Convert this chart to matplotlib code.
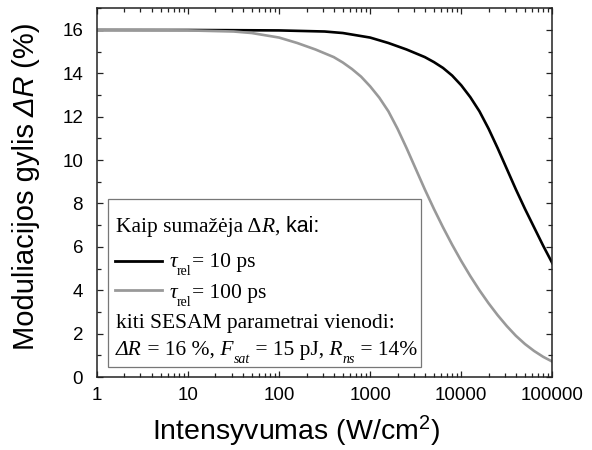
import matplotlib
matplotlib.use("Agg")
import matplotlib.pyplot as plt
from matplotlib.patches import Rectangle
from matplotlib.ticker import LogLocator, MultipleLocator, NullFormatter

plt.rcParams['font.family'] = 'Liberation Sans'
plt.rcParams['mathtext.fontset'] = 'custom'
plt.rcParams['mathtext.rm'] = 'Liberation Sans'
plt.rcParams['mathtext.it'] = 'Liberation Sans:italic'

# values
intensity_10ps = [1, 10, 100, 316, 501, 1000, 1585, 2512, 3981, 5012, 6310,
                  7943, 10000, 12589, 15849, 19953, 25119, 31623, 39811,
                  50119, 63096, 79433, 100000]
dR_10ps = [16.0, 16.0, 15.98, 15.93, 15.86, 15.65, 15.4, 15.1, 14.75, 14.52,
           14.25, 13.9, 13.45, 12.9, 12.25, 11.45, 10.55, 9.6, 8.65, 7.75,
           6.9, 6.05, 5.25]

intensity_100ps = [1, 10, 31.6, 50.1, 100, 158, 251, 398, 501, 631, 794, 1000,
                   1259, 1585, 1995, 2512, 3162, 3981, 5012, 6310, 7943,
                   10000, 12589, 15849, 19953, 25119, 31623, 39811, 50119,
                   63096, 79433, 100000]
dR_100ps = [16.0, 15.98, 15.93, 15.86, 15.65, 15.4, 15.1, 14.75, 14.5, 14.2,
            13.85, 13.4, 12.88, 12.25, 11.45, 10.55, 9.6, 8.65, 7.75, 6.9,
            6.1, 5.35, 4.65, 4.0, 3.4, 2.85, 2.35, 1.9, 1.52, 1.2, 0.93, 0.71]

x_ticks = [1, 10, 100, 1000, 10000, 100000]
x_tick_labels = ['1', '10', '100', '1000', '10000', '100000']
y_ticks = [0, 2, 4, 6, 8, 10, 12, 14, 16]

fig = plt.figure(figsize=(5.92, 4.5), dpi=100)
ax = fig.add_axes([97 / 592, 73 / 450, 455.3 / 592, 368.7 / 450])

l1, = ax.plot(intensity_10ps, dR_10ps, color='black', lw=1.9)
l2, = ax.plot(intensity_100ps, dR_100ps, color='#999999', lw=1.9)

ax.set_xscale('log')
ax.set_xlim(1, 100000)
ax.set_ylim(0, 17)
ax.set_xticks(x_ticks, x_tick_labels)
ax.xaxis.set_minor_locator(LogLocator(base=10, subs=range(2, 10), numticks=20))
ax.xaxis.set_minor_formatter(NullFormatter())
ax.set_yticks(y_ticks)
ax.yaxis.set_minor_locator(MultipleLocator(1))
ax.tick_params(which='both', direction='in', top=True, right=True,
               width=0.9, color='#222222')
ax.tick_params(which='major', length=4.5, labelsize=13.5)
ax.tick_params(which='minor', length=3)
ax.tick_params(axis='x', pad=7)
ax.tick_params(axis='y', pad=10)
for sp in ax.spines.values():
    sp.set_linewidth(1.1)
    sp.set_color('#222222')

# x label, centred on the figure
fig.text(0.5, 10 / 450, 'Intensyvumas (W/cm$^2$)', ha='center', va='baseline',
         size=20.5)

# y label, built from pieces so that the symbol is italic
xb = 34 / 592
yl = fig.text(xb, 100 / 450, 'Moduliacijos gylis', rotation=90,
              rotation_mode='anchor', ha='left', va='baseline', size=21)
yl2 = ax.annotate(' \u0394R', xy=(xb, 1), xycoords=(fig.transFigure, yl),
                  rotation=90, rotation_mode='anchor', ha='left',
                  va='baseline', size=21, style='italic')
ax.annotate(' (%)', xy=(xb, 1), xycoords=(fig.transFigure, yl2),
            rotation=90, rotation_mode='anchor', ha='left', va='baseline',
            size=21)

# legend box
ax.add_patch(Rectangle((0.0242, 0.0271), 0.6874, 0.4557, transform=ax.transAxes,
                       facecolor='white', edgecolor='#777777', lw=0.9, zorder=4))

RM = dict(family='Liberation Serif', size=15.5)
IT = dict(family='Liberation Serif', size=15.5, style='italic')
SUB = dict(family='Liberation Serif', size=10)
SUBIT = dict(family='Liberation Serif', size=10, style='italic')
SANS = dict(family='Liberation Sans', size=15.5)


def text_line(x, y, pieces):
    # pieces: (text, font props, x offset pt, y offset pt), each one placed
    # right after the previous piece on the same baseline
    prev = ax.text(x, y, pieces[0][0], transform=ax.transAxes, va='baseline',
                   zorder=5, **pieces[0][1])
    for s, props, dx, dy in pieces[1:]:
        prev = ax.annotate(s, xy=(1, y), xycoords=(prev, ax.transAxes),
                           xytext=(dx, dy), textcoords='offset points',
                           ha='left', va='baseline', zorder=5, **props)


tx = 0.0417
text_line(tx, 0.3933, [('Kaip sumažėja \u0394', RM, 0, 0), ('R', IT, 0, 0),
                       (',', RM, 0, 0), (' kai:', SANS, 0, 0)])

ax.plot([0.0395, 0.1428], [0.3146, 0.3146], transform=ax.transAxes,
        color=l1.get_color(), lw=2.0, zorder=5)
text_line(0.1603, 0.2983, [('\u03c4', IT, 0, 0), ('rel', SUB, -0.5, -5.5),
                           ('= 10 ps', RM, 0.3, 0)])
ax.plot([0.0395, 0.1428], [0.236, 0.236], transform=ax.transAxes,
        color=l2.get_color(), lw=2.0, zorder=5)
text_line(0.1603, 0.2143, [('\u03c4', IT, 0, 0), ('rel', SUB, -0.5, -5.5),
                           ('= 100 ps', RM, 0.3, 0)])

text_line(tx, 0.1329, [('kiti SESAM parametrai vienodi:', RM, 0, 0)])
text_line(tx, 0.0597, [('\u0394R', IT, 0, 0), (' = 16 %,', RM, 0, 0),
                       (' F', IT, 0, 0), ('sat', SUBIT, 0.3, -5.5),
                       (' = 15 pJ,', RM, 0, 0), (' R', IT, 0, 0),
                       ('ns', SUBIT, 0.3, -5.5), (' = 14%', RM, 0, 0)])

fig.savefig('out.png', dpi=100)
